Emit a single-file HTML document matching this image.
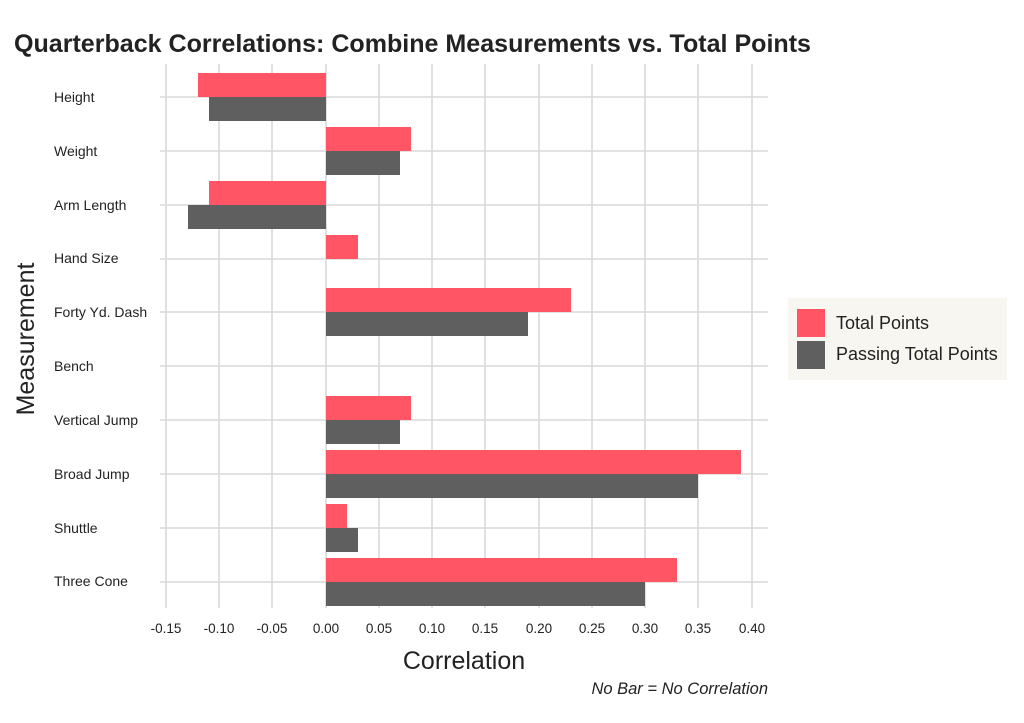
<!DOCTYPE html>
<html><head><meta charset="utf-8"><style>body{margin:0;background:#fff}svg{display:block;font-family:"Liberation Sans",sans-serif}</style></head><body>
<svg width="1024" height="723" viewBox="0 0 1024 723">
<rect width="1024" height="723" fill="#fff"/>
<text x="14" y="52" font-size="25" font-weight="bold" fill="#222" textLength="797" lengthAdjust="spacingAndGlyphs">Quarterback Correlations: Combine Measurements vs. Total Points</text>
<g stroke="#d9d9d9" stroke-width="1.6">
<line x1="166" y1="64" x2="166" y2="608"/><line x1="219" y1="64" x2="219" y2="608"/><line x1="272" y1="64" x2="272" y2="608"/><line x1="326" y1="64" x2="326" y2="608"/><line x1="379" y1="64" x2="379" y2="608"/><line x1="432" y1="64" x2="432" y2="608"/><line x1="485" y1="64" x2="485" y2="608"/><line x1="539" y1="64" x2="539" y2="608"/><line x1="592" y1="64" x2="592" y2="608"/><line x1="645" y1="64" x2="645" y2="608"/><line x1="698" y1="64" x2="698" y2="608"/><line x1="752" y1="64" x2="752" y2="608"/>
<line x1="160" y1="97" x2="768" y2="97"/><line x1="160" y1="151" x2="768" y2="151"/><line x1="160" y1="205" x2="768" y2="205"/><line x1="160" y1="259" x2="768" y2="259"/><line x1="160" y1="312" x2="768" y2="312"/><line x1="160" y1="366" x2="768" y2="366"/><line x1="160" y1="420" x2="768" y2="420"/><line x1="160" y1="474" x2="768" y2="474"/><line x1="160" y1="528" x2="768" y2="528"/><line x1="160" y1="582" x2="768" y2="582"/>
</g>
<g fill="#ff5565">
<rect x="198" y="73" width="128" height="24"/>
<rect x="326" y="127" width="85" height="24"/>
<rect x="209" y="181" width="117" height="24"/>
<rect x="326" y="235" width="32" height="24"/>
<rect x="326" y="288" width="245" height="24"/>
<rect x="326" y="396" width="85" height="24"/>
<rect x="326" y="450" width="415" height="24"/>
<rect x="326" y="504" width="21" height="24"/>
<rect x="326" y="558" width="351" height="24"/>
</g>
<g fill="#5f5f5f">
<rect x="209" y="97" width="117" height="24"/>
<rect x="326" y="151" width="74" height="24"/>
<rect x="188" y="205" width="138" height="24"/>
<rect x="326" y="312" width="202" height="24"/>
<rect x="326" y="420" width="74" height="24"/>
<rect x="326" y="474" width="372" height="24"/>
<rect x="326" y="528" width="32" height="24"/>
<rect x="326" y="582" width="319" height="24"/>
</g>
<g font-size="14" fill="#222">
<text x="54" y="102">Height</text><text x="54" y="156">Weight</text><text x="54" y="210">Arm Length</text><text x="54" y="263">Hand Size</text><text x="54" y="317">Forty Yd. Dash</text><text x="54" y="371">Bench</text><text x="54" y="425">Vertical Jump</text><text x="54" y="479">Broad Jump</text><text x="54" y="533">Shuttle</text><text x="54" y="586">Three Cone</text>
</g>
<g font-size="13.5" fill="#222" text-anchor="middle">
<text x="166" y="633">-0.15</text><text x="219" y="633">-0.10</text><text x="272" y="633">-0.05</text><text x="326" y="633">0.00</text><text x="379" y="633">0.05</text><text x="432" y="633">0.10</text><text x="485" y="633">0.15</text><text x="539" y="633">0.20</text><text x="592" y="633">0.25</text><text x="645" y="633">0.30</text><text x="698" y="633">0.35</text><text x="752" y="633">0.40</text>
</g>
<text x="464" y="669" font-size="25" text-anchor="middle" fill="#222">Correlation</text>
<text transform="translate(34,339) rotate(-90)" font-size="25" text-anchor="middle" fill="#222">Measurement</text>
<text x="768" y="694" font-size="16.5" font-style="italic" text-anchor="end" fill="#222">No Bar = No Correlation</text>
<rect x="788" y="298" width="219" height="82" fill="#f7f6f0"/>
<rect x="797" y="309" width="28" height="28" fill="#ff5565"/>
<rect x="797" y="341" width="28" height="28" fill="#5f5f5f"/>
<text x="836" y="329" font-size="18" fill="#222">Total Points</text>
<text x="836" y="360" font-size="18" fill="#222">Passing Total Points</text>
</svg>
</body></html>
